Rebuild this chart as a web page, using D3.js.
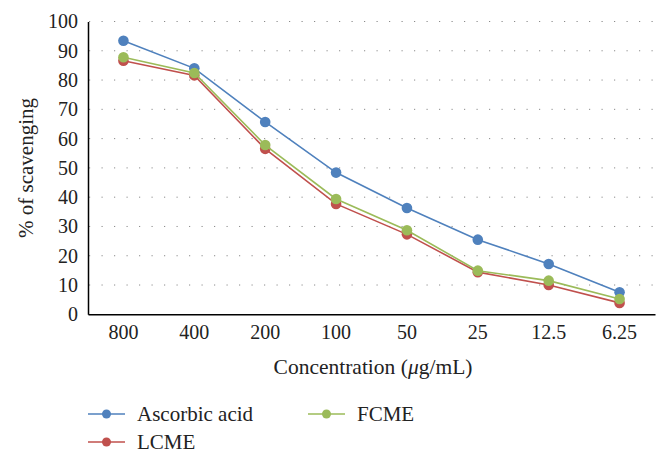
<!DOCTYPE html>
<html><head><meta charset="utf-8">
<script src="https://cdn.jsdelivr.net/npm/d3@7"></script>
<style>body{margin:0;background:#fff}svg{display:block}text{font-family:"Liberation Serif","DejaVu Serif",serif;fill:#222}</style>
</head><body><svg id="c" width="670" height="461"></svg>
<script>
const categories = ["800","400","200","100","50","25","12.5","6.25"];
const ascorbic = [93.4, 84.0, 65.7, 48.4, 36.3, 25.5, 17.2, 7.5];
const lcme = [86.6, 81.6, 56.5, 37.7, 27.3, 14.4, 10.0, 3.9];
const fcme = [87.8, 82.4, 57.8, 39.4, 28.7, 14.9, 11.5, 5.2];
const yTicks = [0,10,20,30,40,50,60,70,80,90,100];
const seriesNames = ["Ascorbic acid","LCME","FCME"];
const colors = ["#4F81BD","#C0504D","#9BBB59"];

const svg = d3.select("#c");
const x = d3.scaleBand().domain(categories).range([88, 655]).padding(0);
const y = d3.scaleLinear().domain([0,100]).range([314.3, 21.5]);
const FONT = "Liberation Serif";

// gridlines
svg.append("g").selectAll("line").data(yTicks.filter(d=>d>0)).join("line")
  .attr("x1", 89).attr("x2", 655).attr("y1", d=>y(d)).attr("y2", d=>y(d))
  .attr("stroke", "#8a8a8a").attr("stroke-width", 1).attr("stroke-dasharray", "1.2 11.3");

// y axis
const yAxis = svg.append("g").attr("transform","translate(88,0)")
  .call(d3.axisLeft(y).tickValues(yTicks).tickSize(0).tickPadding(10))
  .attr("font-family", FONT).attr("font-size", 20);
yAxis.select(".domain").attr("stroke","#000").attr("stroke-width",1.5);
yAxis.selectAll("text").attr("font-family",FONT).attr("fill","#222");

// x axis
const xAxis = svg.append("g").attr("transform","translate(0,314.3)")
  .call(d3.axisBottom(x).tickSize(0).tickPadding(11))
  .attr("font-family", FONT).attr("font-size", 20);
xAxis.select(".domain").attr("stroke","#000").attr("stroke-width",1.5);
xAxis.selectAll("text").attr("font-family",FONT).attr("fill","#222");

// titles
svg.append("text").attr("transform","translate(33,168) rotate(-90)").attr("text-anchor","middle")
  .attr("font-size",21).text("% of scavenging");
const xt = svg.append("text").attr("x",373).attr("y",374).attr("text-anchor","middle").attr("font-size",21.5);
xt.append("tspan").text("Concentration (");
xt.append("tspan").attr("font-style","italic").text("μ");
xt.append("tspan").text("g/mL)");

// series
const data = [ascorbic, lcme, fcme];
const cx = (d,i)=>x(categories[i])+x.bandwidth()/2;
const line = d3.line().x(cx).y(d=>y(d));
data.forEach((vals,k)=>{
  const g = svg.append("g");
  g.append("path").attr("d", line(vals)).attr("fill","none").attr("stroke",colors[k]).attr("stroke-width",1.6);
  g.selectAll("circle").data(vals).join("circle")
    .attr("cx",cx).attr("cy",d=>y(d)).attr("r",5.3).attr("fill",colors[k]);
});

// legend
const legendPos = [[88,414],[88,442],[308,414]];
seriesNames.forEach((n,k)=>{
  const [lx,ly] = legendPos[k];
  const g = svg.append("g");
  g.append("line").attr("x1",lx).attr("x2",lx+37).attr("y1",ly).attr("y2",ly).attr("stroke",colors[k]).attr("stroke-width",1.6);
  g.append("circle").attr("cx",lx+18.5).attr("cy",ly).attr("r",4.5).attr("fill",colors[k]);
  g.append("text").attr("x",lx+49).attr("y",ly+7).attr("font-size",21).text(n);
});
</script></body></html>
